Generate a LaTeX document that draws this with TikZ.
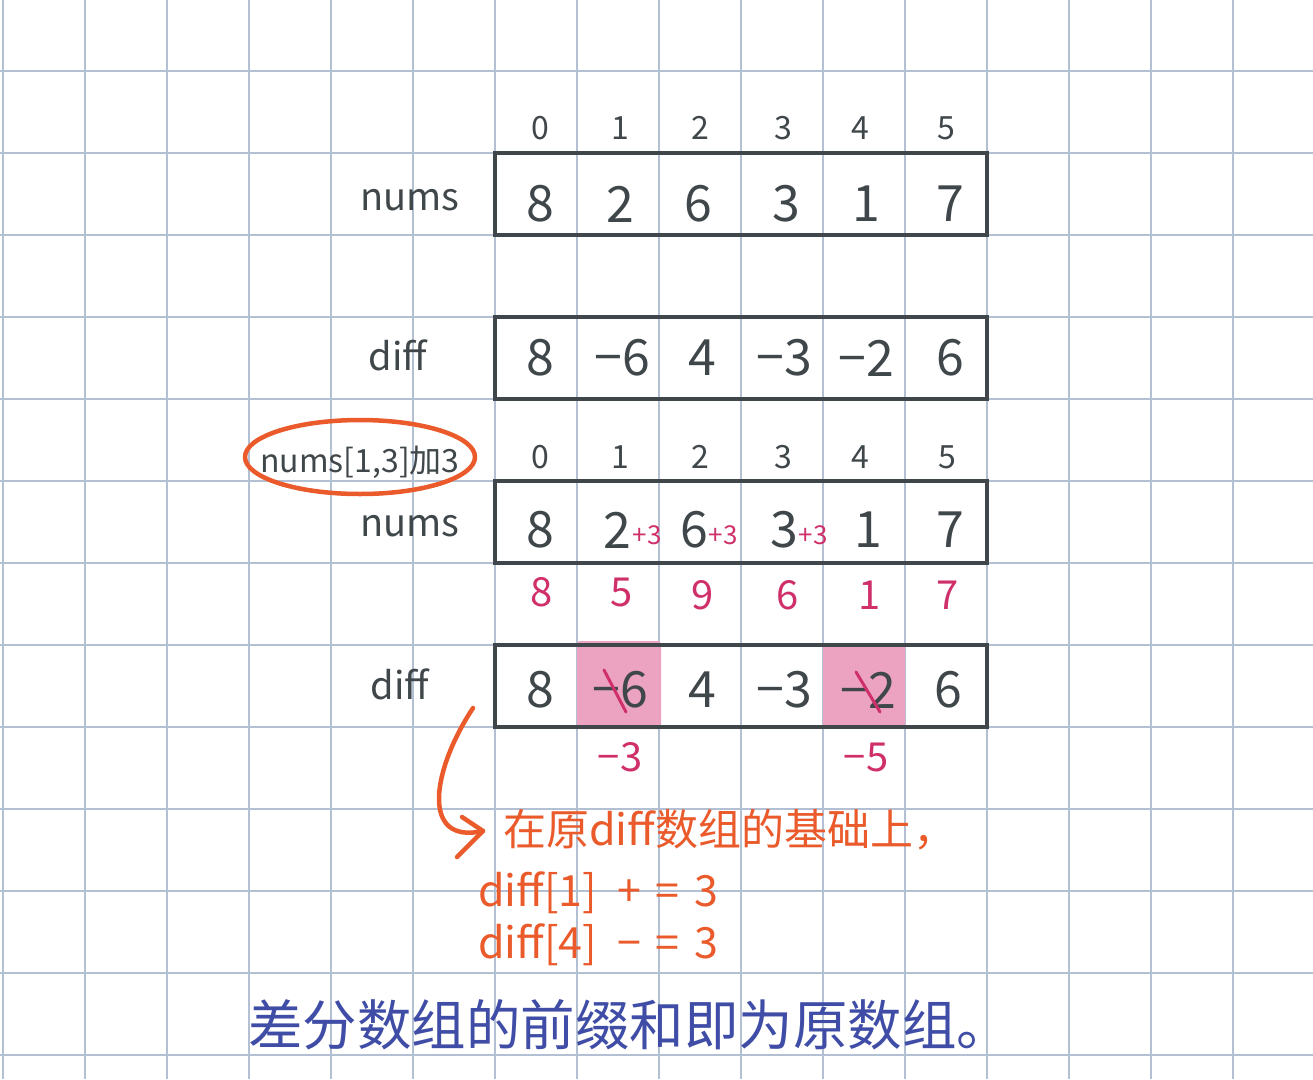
\documentclass[tikz,border=0pt]{standalone}
\usepackage{fontspec}
\setmainfont{Noto Sans CJK SC}
\definecolor{gridc}{HTML}{B3C0D3}
\definecolor{darkc}{HTML}{40474A}
\definecolor{crimc}{HTML}{D0306A}
\definecolor{orangec}{HTML}{EA5A2B}
\definecolor{bluec}{HTML}{3F4DA6}
\definecolor{pinkc}{HTML}{EBA3C1}
\begin{document}
\begin{tikzpicture}[x=1pt,y=-1pt,
  gridline/.style={draw=gridc, line width=2.5},
  arrbox/.style={draw=darkc, line width=3.5, minimum width=492pt, minimum height=82pt, inner sep=0},
  big/.style={inner sep=0, text=darkc, font=\fontsize{50}{50}\selectfont},
  idx/.style={inner sep=0, text=darkc, font=\fontsize{32}{32}\selectfont},
  lbl/.style={inner sep=0, text=darkc, font=\fontsize{38}{38}\selectfont},
  crim/.style={inner sep=0, text=crimc, font=\fontsize{40}{40}\selectfont},
  crimsmall/.style={inner sep=0, text=crimc, font=\fontsize{26}{26}\selectfont},
  strike/.style={draw=crimc, line width=3, line cap=round},
  otxt/.style={inner sep=0, text=orangec, font=\fontsize{43}{43}\selectfont, anchor=west},
  ostroke/.style={draw=orangec, line width=4.5, line cap=round, line join=round},
  btxt/.style={inner sep=0, text=bluec, font=\fontsize{54.5}{54.5}\selectfont, anchor=west}
]
\fill[white] (0,0) rectangle (1313,1079);
\useasboundingbox (0,0) rectangle (1313,1079);
% grid
\foreach \x in {3,85,...,1233} \draw[gridline] (\x,0) -- (\x,1079);
\foreach \y in {71,153,...,1055} \draw[gridline] (0,\y) -- (1313,\y);
% pink highlights
\fill[pinkc, rounded corners=3] (577,641) rectangle (661,729);
\fill[pinkc, rounded corners=3] (823,643) rectangle (905,727);
% boxes
\node[arrbox] (box1) at (741,194) {};
\node[arrbox] (box2) at (741,358) {};
\node[arrbox] (box3) at (741,522) {};
\node[arrbox] (box4) at (741,686) {};
% first index row
\node[idx] (ia0) at (540,128) {0};
\node[idx] (ia1) at (620,128) {1};
\node[idx] (ia2) at (700,128) {2};
\node[idx] (ia3) at (783,128) {3};
\node[idx] (ia4) at (860,128) {4};
\node[idx] (ia5) at (946,128) {5};
% nums row 1
\node[lbl] (lnums1) at (410,200) {nums};
\node[big] (a0) at (540,204) {8};
\node[big] (a1) at (620,204) {2};
\node[big] (a2) at (698,204) {6};
\node[big] (a3) at (786,204) {3};
\node[big] (a4) at (866,204) {1};
\node[big] (a5) at (950,204) {7};
% diff row 1
\node[lbl] (ldiff1) at (398,355) {diff};
\node[big] (d0) at (540,358) {8};
\node[big] (d1) at (622,358) {−6};
\node[big] (d2) at (702,358) {4};
\node[big] (d3) at (784,358) {−3};
\node[big] (d4) at (866,358) {−2};
\node[big] (d5) at (950,358) {6};
% ellipse with label
\node[inner sep=0, text=darkc, font=\fontsize{32}{32}\selectfont] (opl) at (360,462) {nums[1,3]加3};
\draw[ostroke] (360,457) ellipse [x radius=115, y radius=37];
% second index row
\node[idx] (ib0) at (540,457) {0};
\node[idx] (ib1) at (620,457) {1};
\node[idx] (ib2) at (700,457) {2};
\node[idx] (ib3) at (783,457) {3};
\node[idx] (ib4) at (860,457) {4};
\node[idx] (ib5) at (947,457) {5};
% nums row 2
\node[lbl] (lnums2) at (410,526) {nums};
\node[big] (b0) at (540,530) {8};
\node[big] (b1) at (617,530) {2};
\node[big] (b2) at (694,530) {6};
\node[big] (b3) at (784,530) {3};
\node[big] (b4) at (868,530) {1};
\node[big] (b5) at (950,530) {7};
\node[crimsmall] (p1) at (647,535) {+3};
\node[crimsmall] (p2) at (723,535) {+3};
\node[crimsmall] (p3) at (813,535) {+3};
% result row
\node[crim] (r0) at (542,592) {8};
\node[crim] (r1) at (622,592) {5};
\node[crim] (r2) at (703,595) {9};
\node[crim] (r3) at (788,595) {6};
\node[crim] (r4) at (870,595) {1};
\node[crim] (r5) at (948,595) {7};
% diff row 2
\node[lbl] (ldiff2) at (400,684) {diff};
\node[big] (e0) at (540,690) {8};
\node[big] (e1) at (620,690) {−6};
\node[big] (e2) at (702,690) {4};
\node[big] (e3) at (784,690) {−3};
\node[big] (e4) at (868,690) {−2};
\node[big] (e5) at (948,690) {6};
\draw[strike] ([shift={(-16,-20)}]e1.center) -- ([shift={(6,22)}]e1.center);
\draw[strike] ([shift={(-12,-18)}]e4.center) -- ([shift={(12,22)}]e4.center);
\node[crim] (m1) at (620,757) {−3};
\node[crim] (m4) at (866,757) {−5};
% arrow
\coordinate (as) at (473,708);
\coordinate (at) at (483,831);
\draw[ostroke] (as) .. controls (432,770) and (420,845) .. (at);
\draw[ostroke] (462,817) -- (at) -- (457,857);
% orange notes
\node[otxt] (note1) at (503,830) {在原diff数组的基础上，};
\node[otxt] (note2) at (478,893) {diff[1]\hspace{20pt}+\hspace{14pt}=\hspace{16pt}3};
\node[otxt] (note3) at (478,945) {diff[4]\hspace{20pt}−\hspace{14pt}=\hspace{16pt}3};
% blue conclusion
\node[btxt] (concl) at (248,1025) {差分数组的前缀和即为原数组。};
\end{tikzpicture}
\end{document}
